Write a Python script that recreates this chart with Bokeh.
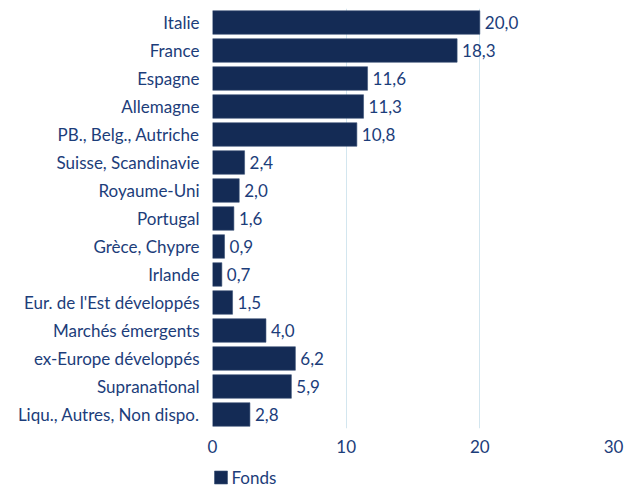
from bokeh.plotting import figure
from bokeh.layouts import column
from bokeh.models import FactorRange, Range1d, ColumnDataSource
from bokeh.core.properties import value
from bokeh.embed import file_html
from bokeh.resources import INLINE

categories = ["Italie", "France", "Espagne", "Allemagne", "PB., Belg., Autriche",
              "Suisse, Scandinavie", "Royaume-Uni", "Portugal", "Grèce, Chypre",
              "Irlande", "Eur. de l'Est développés", "Marchés émergents",
              "ex-Europe développés", "Supranational", "Liqu., Autres, Non dispo."]
fonds = [20.0, 18.3, 11.6, 11.3, 10.8, 2.4, 2.0, 1.6, 0.9, 0.7, 1.5, 4.0, 6.2, 5.9, 2.8]
series_name = "Fonds"
x_ticks = [0, 10, 20, 30]

BAR = "#142b55"
TXT = "#1c3d7a"
GRID = "#d3e6ef"
FONT = "Lato"
FS = "17px"

labels = [f"{v:.1f}".replace(".", ",") for v in fonds]
src = ColumnDataSource(dict(cat=categories, val=fonds, lab=labels))

p = figure(width=636, height=456, output_backend="svg", toolbar_location=None,
           y_range=FactorRange(*list(reversed(categories)), range_padding=0),
           x_range=Range1d(0, 30))
p.min_border_left = 212
p.min_border_right = 23
p.min_border_top = 8
p.min_border_bottom = 28
p.outline_line_color = None
p.background_fill_color = "white"

p.hbar(y="cat", right="val", left=0, height=0.84, source=src,
       fill_color=BAR, line_color="#3a5277", line_width=0.6)
p.text(x="val", y="cat", text="lab", source=src, x_offset=5,
       text_align="left", text_baseline="middle", text_color=TXT,
       text_font=value(FONT), text_font_size=FS)

p.xaxis.ticker = x_ticks
p.xaxis.axis_line_color = None
p.xaxis.major_tick_line_color = None
p.xaxis.minor_tick_line_color = None
p.xaxis.major_label_text_color = TXT
p.xaxis.major_label_text_font = FONT
p.xaxis.major_label_text_font_size = FS
p.xaxis.major_label_standoff = 5

p.yaxis.axis_line_color = None
p.yaxis.major_tick_line_color = None
p.yaxis.minor_tick_line_color = None
p.yaxis.major_label_text_color = TXT
p.yaxis.major_label_text_font = FONT
p.yaxis.major_label_text_font_size = FS
p.yaxis.major_label_standoff = 7

p.xgrid.ticker = x_ticks
p.xgrid.grid_line_color = GRID
p.xgrid.grid_line_width = 1
p.ygrid.grid_line_color = None

# legend strip below the chart; its frame is aligned with the chart frame
# (pixels 212..613), so the range is expressed in page pixels
q = figure(width=636, height=32, output_backend="svg", toolbar_location=None,
           x_range=Range1d(212, 613), y_range=Range1d(0, 32))
q.min_border_left = 212
q.min_border_right = 23
q.min_border_top = 0
q.min_border_bottom = 0
q.axis.visible = False
q.grid.visible = False
q.outline_line_color = None
q.rect(x=[220.5], y=[11], width=13, height=13, width_units="screen",
       height_units="screen", fill_color=BAR, line_color="#3a5277", line_width=0.6)
q.text(x=[231], y=[11], text=[series_name], text_align="left",
       text_baseline="middle", text_color=TXT, text_font=value(FONT),
       text_font_size=FS)

layout = column(p, q, spacing=0)
open("out.html", "w").write(file_html(layout, INLINE))
